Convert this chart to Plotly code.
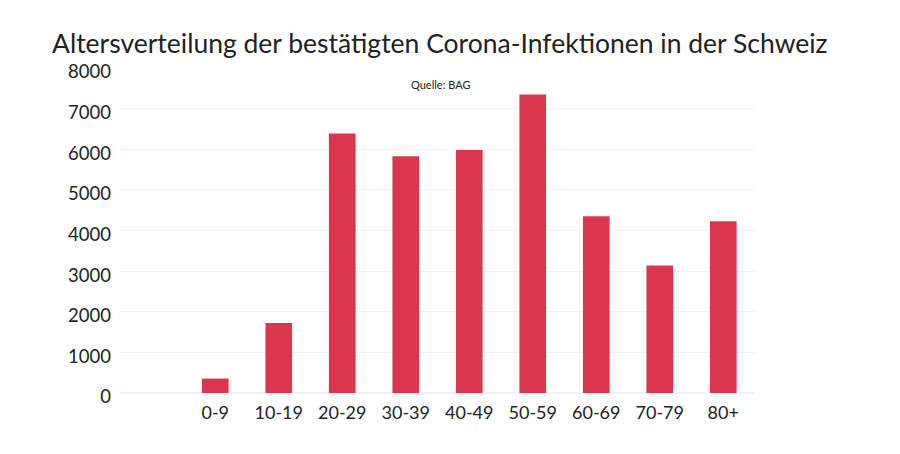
import plotly.graph_objects as go

categories = ["0-9", "10-19", "20-29", "30-39", "40-49", "50-59", "60-69", "70-79", "80+"]
cases = [355, 1725, 6390, 5830, 5980, 7350, 4350, 3140, 4230]
y_ticks = [0, 1000, 2000, 3000, 4000, 5000, 6000, 7000, 8000]

# page body adds an 8px offset; compensate in margins
OFF = 8

fig = go.Figure(
    go.Bar(x=categories, y=cases, marker=dict(color="#DA374F", line=dict(width=0)))
)

fig.update_layout(
    width=900,
    height=454,
    margin=dict(l=120 - OFF, r=145 + OFF, t=68 - OFF, b=61 + OFF),
    paper_bgcolor="white",
    plot_bgcolor="white",
    bargap=0.58,
    showlegend=False,
    font=dict(family="Lato", color="#222222"),
    title=dict(
        text="Altersverteilung der bestätigten Corona-Infektionen in der Schweiz",
        font=dict(family="Lato", size=26.5, color="#222222"),
        xref="container", x=(52 - OFF) / 900, xanchor="left",
        yref="container", y=1 - (44 - OFF) / 454, yanchor="middle",
    ),
    xaxis=dict(
        type="category",
        range=[-1.5, 8.5],
        showgrid=False,
        showline=False,
        zeroline=False,
        tickfont=dict(family="Lato", size=18, color="#222222"),
        ticks="",
        ticklabelstandoff=7,
    ),
    yaxis=dict(
        range=[0, 8000],
        tickvals=y_ticks,
        showgrid=True,
        gridcolor="#F2F2F2",
        gridwidth=1,
        zeroline=True,
        zerolinecolor="#F2F2F2",
        showline=False,
        tickfont=dict(family="Lato", size=18.5, color="#222222"),
        ticks="",
        ticklabelstandoff=8,
        ticklabelshift=4,
    ),
    annotations=[
        dict(
            text="Quelle: BAG",
            xref="paper", yref="paper",
            x=0.505, y=(393 - 85) / 325,
            xanchor="center", yanchor="middle",
            showarrow=False,
            font=dict(family="Lato", size=11, color="#222222"),
        )
    ],
)

fig.write_html("out.html")
